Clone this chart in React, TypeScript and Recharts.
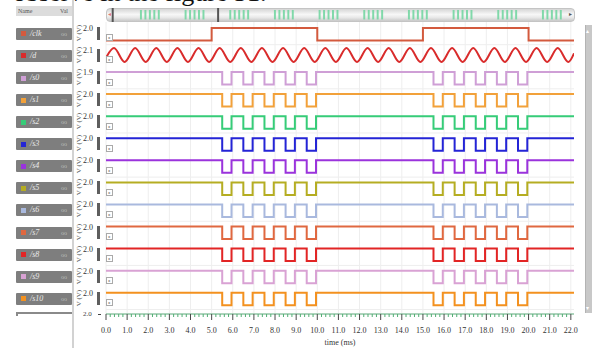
import React from "react";
import { LineChart, Line, XAxis, YAxis, CartesianGrid, ReferenceArea, ReferenceLine, Label } from "recharts";

// ---------- data ----------
const signalNames = ["/clk", "/d", "/s0", "/s1", "/s2", "/s3", "/s4", "/s5", "/s6", "/s7", "/s8", "/s9", "/s10"];
const signalColors = ["#d35a3e", "#d92b2b", "#cf9fd6", "#f2a13a", "#36cc78", "#2424d6", "#9a33dc", "#b5ad22", "#a9b9de", "#e06840", "#e22525", "#d9a2d4", "#f3911f"];
const rowMaxLabels = ["2.0", "2.1", "1.9", "2.0", "2.0", "2.0", "2.0", "2.0", "2.0", "2.0", "2.0", "2.0", "2.0"];
const rowMax = [2.0, 2.1, 1.9, 2.0, 2.0, 2.0, 2.0, 2.0, 2.0, 2.0, 2.0, 2.0, 2.0];

// clock (ms, V)
const clkTimes = [0, 5, 10, 15, 20, 22.15];
const clkVolts = [0, 2.0, 0, 2.0, 0, 0];

// d: sine extrema (ms, V)
const dTimes = [0, 0.38, 0.88, 1.38, 1.88, 2.38, 2.88, 3.38, 3.88, 4.38, 4.88, 5.38, 5.88, 6.38, 6.88, 7.38, 7.88, 8.38, 8.88, 9.38, 9.88, 10.38, 10.88, 11.38, 11.88, 12.38, 12.88, 13.38, 13.88, 14.38, 14.88, 15.38, 15.88, 16.38, 16.88, 17.38, 17.88, 18.38, 18.88, 19.38, 19.88, 20.38, 20.88, 21.38, 21.88, 22.15];
const dVolts = [-0.8, 2.1, -2.1, 2.1, -2.1, 2.1, -2.1, 2.1, -2.1, 2.1, -2.1, 2.1, -2.1, 2.1, -2.1, 2.1, -2.1, 2.1, -2.1, 2.1, -2.1, 2.1, -2.1, 2.1, -2.1, 2.1, -2.1, 2.1, -2.1, 2.1, -2.1, 2.1, -2.1, 2.1, -2.1, 2.1, -2.1, 2.1, -2.1, 2.1, -2.1, 2.1, -2.1, 2.1, -2.1, 0.5];

// s0..s10 pulse train (ms, level 1 = high, 0 = low)
const pulseTimes = [0, 5.5, 5.94, 6.5, 6.94, 7.5, 7.94, 8.5, 8.94, 9.5, 9.94, 15.5, 15.94, 16.5, 16.94, 17.5, 17.94, 18.5, 18.94, 19.5, 19.94, 22.15];
const pulseLevels = [1, 0, 1, 0, 1, 0, 1, 0, 1, 0, 1, 0, 1, 0, 1, 0, 1, 0, 1, 0, 1, 1];

// time axis
const majorTicks = [0, 1, 2, 3, 4, 5, 6, 7, 8, 9, 10, 11, 12, 13, 14, 15, 16, 17, 18, 19, 20, 21, 22];
const tickLabels = ["0.0", "1.0", "2.0", "3.0", "4.0", "5.0", "6.0", "7.0", "8.0", "9.0", "10.0", "11.0", "12.0", "13.0", "14.0", "15.0", "16.0", "17.0", "18.0", "19.0", "20.0", "21.0", "22.0"];

// overview strip (ms over the full 0..105 ms run)
const overviewStarts = [7.6, 17.6, 27.6, 37.6, 47.6, 57.6, 67.6, 77.6, 87.6, 97.6];
const overviewPulseOffsets = [0, 1, 2, 3, 4];
const overviewWindow = [1.5, 25.1];

// ---------- layout ----------
const W = 592;
const H = 348;
const PLOT_TOP = 22;
const PLOT_LEFT = 106;
const PLOT_RIGHT = 574;
const AXIS_H = 34;
const PLOT_H = H - AXIS_H - PLOT_TOP;
const ROW0_HIGH = 27.9;
const ROW_STEP = 22.07;
const ROW_SWING = 12.5;
const D_CENTER = 55;
const D_AMP = 7;
const SERIF = "'Liberation Serif', 'DejaVu Serif', serif";

const rowHigh = (i: number) => ROW0_HIGH + ROW_STEP * i;
const toUnit = (px: number) => px - PLOT_TOP;
const digitalY = (i: number, v: number) => toUnit(rowHigh(i) + (1 - v / rowMax[i]) * ROW_SWING);

const clkData = clkTimes.map((t, k) => ({ t, y: digitalY(0, clkVolts[k]) }));
const dData = dTimes.map((t, k) => ({ t, y: toUnit(D_CENTER - (dVolts[k] / rowMax[1]) * D_AMP) }));
const pulseRows = signalNames.slice(2).map((_, j) => {
  const i = j + 2;
  return pulseTimes.map((t, k) => ({ t, y: digitalY(i, pulseLevels[k] * rowMax[i]) }));
});

const allTicks: number[] = [];
for (let k = 0; k <= 110; k++) allTicks.push(Math.round(k * 2) / 10);

const rowSeparators = signalNames.map((_, i) => toUnit(rowHigh(i) + 16.8));

const TimeTick = (props: any) => {
  const { x, y, payload } = props;
  const v = payload.value as number;
  const r = Math.round(v);
  if (Math.abs(v - r) < 1e-6) {
    return (
      <g>
        <line x1={x} x2={x} y1={y} y2={y + 6} stroke="#4a4a4a" strokeWidth={1} />
        <text x={x} y={y + 19} textAnchor="middle" fontSize={8} fill="#333" fontFamily={SERIF}>
          {tickLabels[r]}
        </text>
      </g>
    );
  }
  return <line x1={x} x2={x} y1={y} y2={y + 3} stroke="#52ae74" strokeWidth={1} />;
};

export default function App() {
  return (
    <div style={{ position: "absolute", left: 0, top: 0, width: W, height: H, background: "#fff", overflow: "hidden", fontFamily: SERIF }}>
      {/* caption fragment above the screenshot */}
      <div style={{ position: "absolute", left: 13, top: -20, fontSize: 26, lineHeight: "26px", color: "#111", whiteSpace: "nowrap", fontFamily: SERIF }}>
        observe in the figure 31.
      </div>

      {/* overview strip */}
      <div style={{ position: "absolute", left: 106, top: 8, width: 469, height: 14, borderRadius: 4, background: "linear-gradient(#d6d6d6, #f7f7f7 45%, #e9e9e9 70%, #c9c9c9)", border: "1px solid #c4c4c4", boxSizing: "border-box" }} />
      <div style={{ position: "absolute", left: 106, top: 8 }}>
        <LineChart width={469} height={14} margin={{ top: 0, right: 0, bottom: 0, left: 0 }} data={[{ t: 0, y: 0 }, { t: 105, y: 0 }]}>
          <XAxis type="number" dataKey="t" domain={[0, 105]} hide />
          <YAxis type="number" domain={[0, 1]} hide />
          <Line dataKey="y" stroke="none" dot={false} isAnimationActive={false} />
          {overviewStarts.map((s) =>
            overviewPulseOffsets.map((o) => (
              <ReferenceArea key={`${s}-${o}`} x1={s + o} x2={s + o + 0.44} y1={0.18} y2={0.86} fill="#74d6a2" fillOpacity={0.9} stroke="none" ifOverflow="hidden" />
            ))
          )}
          {overviewWindow.map((w) => (
            <ReferenceLine key={w} x={w} stroke="#555" strokeWidth={2} />
          ))}
        </LineChart>
      </div>
      <div style={{ position: "absolute", left: 108, top: 11, fontSize: 6, color: "#d77", lineHeight: "6px" }}>◂</div>
      <div style={{ position: "absolute", left: 569, top: 11, fontSize: 6, color: "#555", lineHeight: "6px" }}>▸</div>

      {/* main waveform chart */}
      <div style={{ position: "absolute", left: 0, top: 0 }}>
        <LineChart width={W} height={H} margin={{ top: PLOT_TOP, right: W - PLOT_RIGHT, bottom: 0, left: PLOT_LEFT }}>
          <CartesianGrid stroke="#eeeeee" verticalValues={majorTicks} horizontalValues={rowSeparators} />
          <XAxis
            type="number"
            dataKey="t"
            domain={[0, 22.15]}
            allowDataOverflow
            ticks={allTicks}
            interval={0}
            tickSize={0}
            tickMargin={0}
            tickLine={false}
            tick={<TimeTick />}
            axisLine={{ stroke: "#5aa878" }}
            height={AXIS_H}
          >
            <Label value="time (ms)" position="insideBottom" offset={3} style={{ fontSize: 8, fill: "#333", fontFamily: SERIF }} />
          </XAxis>
          <YAxis type="number" domain={[0, PLOT_H]} reversed hide allowDataOverflow />
          <Line data={clkData} dataKey="y" type="stepAfter" stroke={signalColors[0]} strokeWidth={2} dot={false} isAnimationActive={false} />
          <Line data={dData} dataKey="y" type="monotone" stroke={signalColors[1]} strokeWidth={2} dot={false} isAnimationActive={false} />
          {pulseRows.map((rows, j) => (
            <Line key={signalNames[j + 2]} data={rows} dataKey="y" type="stepAfter" stroke={signalColors[j + 2]} strokeWidth={2} dot={false} isAnimationActive={false} />
          ))}
        </LineChart>
      </div>

      {/* left name panel */}
      <div style={{ position: "absolute", left: 16, top: 6, width: 56, height: 10, background: "#dcdcdc", fontSize: 6, color: "#555", lineHeight: "11px" }}>
        <span style={{ position: "absolute", left: 2 }}>Name</span>
        <span style={{ position: "absolute", left: 44 }}>Val</span>
      </div>
      {signalNames.map((n, i) => {
        const top = rowHigh(i);
        return (
          <div key={n} style={{ position: "absolute", left: 16, top, width: 56, height: 12, background: "#7e7e7e", borderRadius: 1 }}>
            <div style={{ position: "absolute", left: 5, top: 3.5, width: 5, height: 5, background: signalColors[i] }} />
            <div style={{ position: "absolute", left: 14, top: 0, fontSize: 8, lineHeight: "12px", color: "#eaeaea", fontStyle: "italic" }}>{n}</div>
            <div style={{ position: "absolute", left: 45, top: 0, fontSize: 6, lineHeight: "12px", color: "#bdbdbd" }}>oo</div>
          </div>
        );
      })}
      <div style={{ position: "absolute", left: 16, top: 312, width: 56, height: 1.5, background: "#8a8a8a" }} />
      <div style={{ position: "absolute", left: 16, top: 312, width: 1.5, height: 4, background: "#8a8a8a" }} />
      <div style={{ position: "absolute", left: 72, top: 0, width: 2, height: H, background: "#d2d2d2" }} />

      {/* per-row unit labels, max labels and handles */}
      {signalNames.map((n, i) => {
        const hi = rowHigh(i);
        return (
          <React.Fragment key={`lbl-${n}`}>
            <div style={{ position: "absolute", left: 79 - 15, top: hi + 5 - 4, width: 30, height: 8, fontSize: 7, lineHeight: "8px", color: "#444", textAlign: "center", transform: "rotate(-90deg)", whiteSpace: "nowrap" }}>V (V)</div>
            <div style={{ position: "absolute", left: 83, top: hi - 4, fontSize: 8, lineHeight: "9px", color: "#333" }}>{rowMaxLabels[i]}</div>
            <div style={{ position: "absolute", left: 97, top: hi - 1, width: 3, height: 13, background: "#5e5e5e" }} />
            <div style={{ position: "absolute", left: 106, top: hi + 6.5, width: 5, height: 5, border: "1px solid #aaa", background: "#fff", fontSize: 4, lineHeight: "5px", color: "#777", textAlign: "center" }}>▸</div>
          </React.Fragment>
        );
      })}
      <div style={{ position: "absolute", left: 83, top: 310, fontSize: 7, lineHeight: "8px", color: "#444" }}>2.0</div>
      <div style={{ position: "absolute", left: 98, top: 313.5, width: 3, height: 1.5, background: "#444" }} />

      {/* right scrollbar */}
      <div style={{ position: "absolute", left: 585, top: 25, width: 7, height: 288, background: "#c8c8c8", borderLeft: "1px solid #b3b3b3", boxSizing: "border-box" }}>
        <div style={{ position: "absolute", left: 0, top: 3, fontSize: 6, lineHeight: "6px", color: "#fff" }}>▴</div>
        <div style={{ position: "absolute", left: 0, bottom: 2, fontSize: 6, lineHeight: "6px", color: "#fff" }}>▾</div>
      </div>
    </div>
  );
}
